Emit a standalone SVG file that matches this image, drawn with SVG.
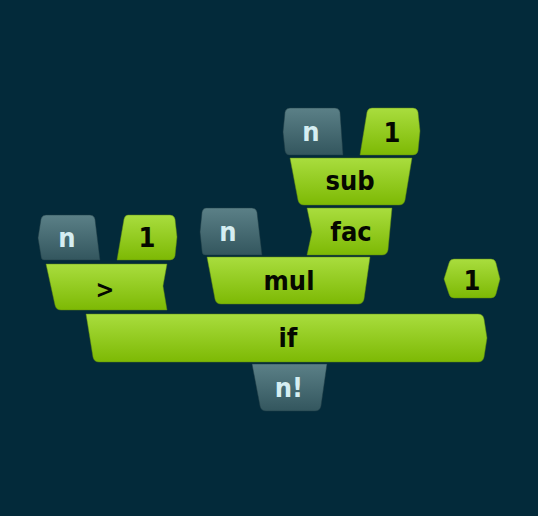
<svg xmlns="http://www.w3.org/2000/svg" width="538" height="516" viewBox="0 0 538 516">
<defs>
<linearGradient id="gG" x1="0" y1="0" x2="0" y2="1">
<stop offset="0" stop-color="#a9dd3e"/>
<stop offset="1" stop-color="#7db904"/>
</linearGradient>
<linearGradient id="gT" x1="0" y1="0" x2="0" y2="1">
<stop offset="0" stop-color="#5b8087"/>
<stop offset="1" stop-color="#33565e"/>
</linearGradient>
</defs>
<style>
.g{fill:url(#gG);stroke:#5e8a10;stroke-width:0.8;stroke-opacity:0.6}
.t{fill:url(#gT);stroke:#1d3c44;stroke-width:0.8;stroke-opacity:0.6}
.lg{font-family:"DejaVu Sans Condensed","DejaVu Sans",sans-serif;font-weight:bold;font-size:27px;fill:#050800;text-anchor:middle}
.lt{font-family:"DejaVu Sans Condensed","DejaVu Sans",sans-serif;font-weight:bold;font-size:27px;fill:#d6eef2;text-anchor:middle}
</style>
<rect width="538" height="516" fill="#032a3a"/>
<g id="connectors"/>
<g id="n-top">
<path class="t" d="M290,108 L335,108 Q339,108 340,112 L343,155 L289,155 Q286,155 285,151 L283,132 L285,112 Q286,108 290,108 Z"/>
<text class="lt" x="311" y="141">n</text>
</g>
<g id="one-top">
<path class="g" d="M372,108 L413,108 Q417,108 418,112 L420,131 L418,151 Q417,155 413,155 L360,155 L367,112 Q368,108 372,108 Z"/>
<text class="lg" x="392" y="142">1</text>
</g>
<g id="sub">
<path class="g" d="M290,158 L412,158 L405,200 Q404,205 399,205 L304,205 Q299,205 298,200 Z"/>
<text class="lg" x="350" y="190">sub</text>
</g>
<g id="n-mid">
<path class="t" d="M206,208 L252,208 Q256,208 257,212 L262,255 L205,255 Q202,255 202,251 L200,232 L202,212 Q203,208 206,208 Z"/>
<text class="lt" x="228" y="241">n</text>
</g>
<g id="fac">
<path class="g" d="M307,208 L392,208 L388,250 Q387,255 382,255 L307,255 L312,232 Z"/>
<text class="lg" x="351" y="241">fac</text>
</g>
<g id="n-left">
<path class="t" d="M46,215 L90,215 Q94,215 95,219 L100,260 L44,260 Q41,260 41,256 L38,238 L41,219 Q42,215 46,215 Z"/>
<text class="lt" x="67" y="247">n</text>
</g>
<g id="one-left">
<path class="g" d="M128,215 L170,215 Q174,215 175,219 L177,237 L175,256 Q174,260 170,260 L117,260 L124,219 Q125,215 128,215 Z"/>
<text class="lg" x="147" y="247">1</text>
</g>
<g id="gt">
<path class="g" d="M46,264 L167,264 L163,286 L167,310 L61,310 Q56,310 55,305 Z"/>
<text class="lg" x="105" y="298" style="font-size:25px">&gt;</text>
</g>
<g id="mul">
<path class="g" d="M207,257 L370,257 L364,299 Q363,304 358,304 L221,304 Q216,304 215,299 Z"/>
<text class="lg" x="289" y="290">mul</text>
</g>
<g id="one-right">
<path class="g" d="M454,259 L491,259 Q495,259 496,263 L500,279 L496,294 Q495,298 491,298 L454,298 Q450,298 449,294 L444,279 L449,263 Q450,259 454,259 Z"/>
<text class="lg" x="472" y="290">1</text>
</g>
<g id="if">
<path class="g" d="M86,314 L478,314 Q483,314 484,319 L487,338 L484,357 Q483,362 478,362 L99,362 Q94,362 93,357 Z"/>
<text class="lg" x="288" y="347">if</text>
</g>
<g id="n-fact">
<path class="t" d="M252,364 L327,364 L321,406 Q320,411 315,411 L266,411 Q261,411 260,406 Z"/>
<text class="lt" x="289" y="397">n!</text>
</g>
</svg>
